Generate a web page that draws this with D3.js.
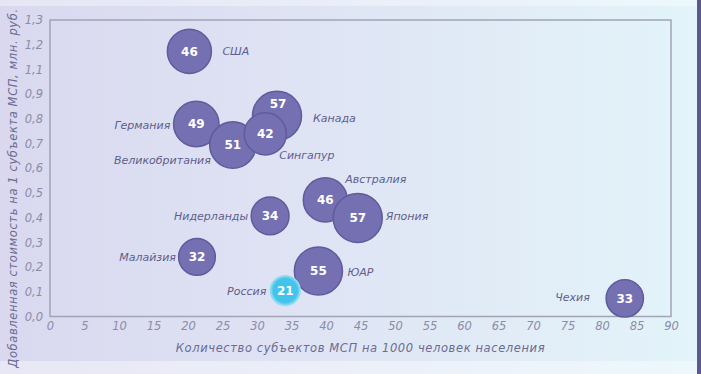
<!DOCTYPE html>
<html>
<head>
<meta charset="utf-8">
<script src="https://cdn.jsdelivr.net/npm/d3@7"></script>
<style>
  body { margin: 0; padding: 0; }
  svg { display: block; }
</style>
</head>
<body>
<div id="bubble_chart"></div>
<script>
// data
var countries = ["США", "Германия", "Великобритания", "Канада", "Сингапур", "Нидерланды",
                 "Австралия", "Япония", "ЮАР", "Россия", "Малайзия", "Чехия"];
var smePer1000 = [20.2, 21.2, 26.5, 32.9, 31.2, 31.9, 39.9, 44.6, 38.9, 34.1, 21.3, 83.3];
// y in axis units (ticks evenly spaced, the original axis skips "1,0")
var valueAdded = [1.073, 0.779, 0.694, 0.812, 0.739, 0.407, 0.472, 0.399, 0.184, 0.105, 0.241, 0.073];
var bubbleSize = [46, 49, 51, 57, 42, 34, 46, 57, 55, 21, 32, 33];

var xTicks = [0, 5, 10, 15, 20, 25, 30, 35, 40, 45, 50, 55, 60, 65, 70, 75, 80, 85, 90];
var yTickLabels = ["0,0", "0,1", "0,2", "0,3", "0,4", "0,5", "0,6", "0,7", "0,8", "0,9", "1,1", "1,2", "1,3"];

var xTitle = "Количество субъектов МСП на 1000 человек населения";
var yTitle = "Добавленная стоимость на 1 субъекта МСП, млн. руб.";

var w = 701, h = 374;

var svg = d3.select("#bubble_chart")
    .append("svg")
    .attr("width", w)
    .attr("height", h);

var defs = svg.append("defs");
var bg = defs.append("linearGradient").attr("id", "bg").attr("x1", 0).attr("x2", 1).attr("y1", 0).attr("y2", 0);
bg.append("stop").attr("offset", "0%").attr("stop-color", "#d9d8ef");
bg.append("stop").attr("offset", "45%").attr("stop-color", "#dfe4f4");
bg.append("stop").attr("offset", "100%").attr("stop-color", "#e3f4fa");

var rg = defs.append("radialGradient").attr("id", "ru").attr("cx", "50%").attr("cy", "50%").attr("r", "50%");
rg.append("stop").attr("offset", "0%").attr("stop-color", "#3fc2ea");
rg.append("stop").attr("offset", "80%").attr("stop-color", "#45c4ea");
rg.append("stop").attr("offset", "100%").attr("stop-color", "#8ad9f0");

svg.append("rect").attr("width", w).attr("height", h).style("fill", "url(#bg)");
// light strips top / bottom, dark bar at right
svg.append("rect").attr("width", w).attr("height", 6).style("fill", "#ffffff").style("opacity", 0.35);
svg.append("rect").attr("y", 361).attr("width", w).attr("height", h - 361).style("fill", "#ffffff").style("opacity", 0.4);
svg.append("rect").attr("x", 697).attr("width", 4).attr("height", h).style("fill", "#5b5990");

var pl = 50, pr = 671, pt = 20, pb = 316.5;

var x = d3.scaleLinear().domain([0, 90]).range([pl, pr]);
var y = d3.scaleLinear().domain([0, 1.2]).range([pb, pt]);
var r = d3.scaleSqrt().domain([0, 57]).range([0, 24.5]);

// plot frame
svg.append("rect")
    .attr("x", pl).attr("y", pt)
    .attr("width", pr - pl).attr("height", pb - pt)
    .style("fill", "none")
    .style("stroke", "#a3a3b8")
    .style("stroke-width", 1.5);

var xAxis = d3.axisBottom(x).tickValues(xTicks).tickSize(0).tickPadding(5);
var yAxis = d3.axisLeft(y)
    .tickValues(d3.range(13).map(function(i) { return i / 10; }))
    .tickFormat(function(d, i) { return yTickLabels[i]; })
    .tickSize(0).tickPadding(7);

var gx = svg.append("g")
    .attr("transform", "translate(0," + pb + ")")
    .call(xAxis);
var gy = svg.append("g")
    .attr("transform", "translate(" + pl + ",0)")
    .call(yAxis);

[gx, gy].forEach(function(g) {
  g.select(".domain").remove();
  g.selectAll("text")
    .attr("font-family", "DejaVu Sans")
    .attr("font-style", "italic")
    .attr("font-size", "11.5px")
    .attr("fill", "#8d8ca8");
});

svg.append("text")
    .attr("x", (pl + pr) / 2)
    .attr("y", 352)
    .attr("text-anchor", "middle")
    .attr("font-family", "DejaVu Sans")
    .attr("font-style", "italic")
    .attr("font-size", "11.5px")
    .attr("letter-spacing", "0.6px")
    .attr("fill", "#6c6b92")
    .text(xTitle);

svg.append("text")
    .attr("transform", "translate(17," + 188 + ") rotate(-90)")
    .attr("text-anchor", "middle")
    .attr("font-family", "DejaVu Sans")
    .attr("font-style", "italic")
    .attr("font-size", "11.5px")
    .attr("letter-spacing", "0.6px")
    .attr("fill", "#6c6b92")
    .text(yTitle);

var data = countries.map(function(c, i) {
  return { name: c, x: smePer1000[i], y: valueAdded[i], size: bubbleSize[i] };
});

// Russia is drawn last, on top
var order = ["США", "Германия", "Великобритания", "Канада", "Сингапур", "Нидерланды",
             "Австралия", "Япония", "ЮАР", "Малайзия", "Чехия", "Россия"];
data.sort(function(a, b) { return order.indexOf(a.name) - order.indexOf(b.name); });

// label placement relative to bubble: [dx, dy, anchor]
var labelPos = {
  "США": [33, 0, "start"],
  "Германия": [-26, 1, "end"],
  "Великобритания": [-22, 15, "end"],
  "Канада": [36, 2, "start"],
  "Сингапур": [14, 21, "start"],
  "Нидерланды": [-22, 0, "end"],
  "Австралия": [20, -21, "start"],
  "Япония": [28, -2, "start"],
  "ЮАР": [29, 1, "start"],
  "Россия": [-19, 1, "end"],
  "Малайзия": [-21, 0, "end"],
  "Чехия": [-35, -1, "end"]
};
// value label nudges (Canada's number sits above Singapore's bubble)
var numShift = { "Канада": [1, -12] };

function tr(d) { return "translate(" + x(d.x) + "," + y(d.y) + ")"; }

svg.append("g").selectAll("circle")
    .data(data)
    .enter().append("circle")
    .attr("transform", tr)
    .attr("r", function(d) { return r(d.size); })
    .style("fill", function(d) { return d.name === "Россия" ? "url(#ru)" : "#7470b1"; })
    .style("stroke", function(d) { return d.name === "Россия" ? "#8fdcf2" : "#5f5b9c"; })
    .style("stroke-width", 1.5);

var labels = svg.append("g").selectAll("g")
    .data(data)
    .enter().append("g")
    .attr("transform", tr);

labels.append("text")
    .attr("x", function(d) { return numShift[d.name] ? numShift[d.name][0] : 0; })
    .attr("y", function(d) { return numShift[d.name] ? numShift[d.name][1] : 0; })
    .attr("text-anchor", "middle")
    .attr("dy", "0.36em")
    .attr("font-family", "DejaVu Sans")
    .attr("font-weight", "bold")
    .attr("font-size", "12px")
    .attr("fill", "#ffffff")
    .text(function(d) { return d.size; });

labels.append("text")
    .attr("x", function(d) { return labelPos[d.name][0]; })
    .attr("y", function(d) { return labelPos[d.name][1]; })
    .attr("dy", "0.35em")
    .attr("text-anchor", function(d) { return labelPos[d.name][2]; })
    .attr("font-family", "DejaVu Sans")
    .attr("font-style", "italic")
    .attr("font-size", "11px")
    .attr("fill", "#5f5e8c")
    .text(function(d) { return d.name; });
</script>
</body>
</html>
